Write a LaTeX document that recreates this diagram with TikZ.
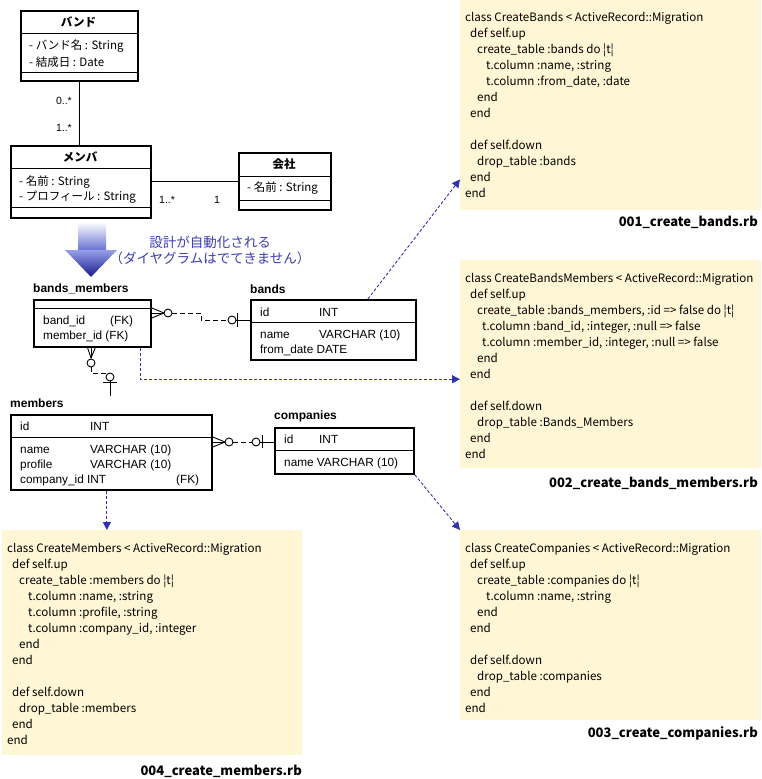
\documentclass[tikz,border=0pt]{standalone}
\usepackage{fontspec}
\setmainfont{Liberation Sans}
\newfontfamily\jp{Noto Sans CJK JP}
\usetikzlibrary{arrows.meta}

\definecolor{codebg}{RGB}{255,246,214}
\definecolor{linkblue}{RGB}{50,50,175}
\definecolor{noteblue}{RGB}{60,60,180}
\definecolor{arrowmid}{RGB}{105,115,210}
\definecolor{arrowlight}{RGB}{150,160,232}
\definecolor{arrowdark}{RGB}{25,25,140}

\newcommand{\codeindent}[1]{\hspace*{#1pt}}

\begin{document}
\begin{tikzpicture}[x=1pt,y=-1pt]
	\tikzset{classbox/.style = {draw, line width=1.8pt, anchor=north west, inner sep=0pt},
		part/.style = {line width=0.9pt},
		umltitle/.style = {font=\jp\bfseries\fontsize{11.5}{13}\selectfont, inner sep=0pt},
		umlattr/.style = {font=\jp\fontsize{11.5}{13}\selectfont, anchor=west, inner sep=0pt},
		mult/.style = {font=\fontsize{10.5}{12}\selectfont, inner sep=0pt},
		tablelabel/.style = {font=\bfseries\fontsize{12}{14}\selectfont, anchor=west, inner sep=0pt},
		field/.style = {font=\fontsize{11.8}{13}\selectfont, anchor=west, inner sep=0pt},
		codebox/.style = {fill=codebg, anchor=north west, inner sep=0pt},
		code/.style = {font=\jp\fontsize{11.6}{16}\selectfont, align=left, anchor=north west, inner sep=0pt},
		filename/.style = {font=\jp\bfseries\fontsize{13}{15}\selectfont, anchor=east, inner sep=0pt},
		flow/.style = {draw=linkblue, dash pattern=on 3pt off 2pt, line width=0.9pt, -{Triangle[length=8pt,width=8pt]}},
		rel/.style = {line width=0.9pt},
		reldash/.style = {line width=0.9pt, dash pattern=on 5pt off 3pt}}
	\useasboundingbox (0,0) rectangle (761,779);
	% UML classes
	\node[classbox, minimum width=117, minimum height=70] (band) at (20,10) {};
	\draw[part] (20,33) -- (137,33);
	\draw[part] (20,72) -- (137,72);
	\node[umltitle] (bandT) at (78.5,22) {バンド};
	\node[umlattr] (bandA1) at (29,46) {- バンド名 : String};
	\node[umlattr] (bandA2) at (29,62) {- 結成日 : Date};
	\node[classbox, minimum width=140, minimum height=72] (member) at (10,145) {};
	\draw[part] (10,168) -- (150,168);
	\draw[part] (10,207) -- (150,207);
	\node[umltitle] (memberT) at (80,157) {メンバ};
	\node[umlattr] (memberA1) at (19,182) {- 名前 : String};
	\node[umlattr] (memberA2) at (19,197) {- プロフィール : String};
	\node[classbox, minimum width=92, minimum height=57] (company) at (238,152) {};
	\draw[part] (238,176) -- (330,176);
	\draw[part] (238,200) -- (330,200);
	\node[umltitle] (companyT) at (284,164) {会社};
	\node[umlattr] (companyA1) at (247,188) {- 名前 : String};
	% associations
	\draw[rel] (band.south) -- (band.south |- member.north);
	\draw[rel] (member.east) -- (member.east -| company.west);
	\node[mult, anchor=east] (m1) at (72,101) {0..*};
	\node[mult, anchor=east] (m2) at (72,128) {1..*};
	\node[mult, anchor=west] (m3) at (159,200) {1..*};
	\node[mult, anchor=west] (m4) at (214,200) {1};
	% big arrow and note
	\shade[top color=white, bottom color=arrowmid] (78,222) rectangle (106,250);
	\shade[top color=arrowlight, bottom color=arrowdark] (65,250) -- (117,250) -- (91,277) -- cycle;
	\node[font=\jp\fontsize{13.5}{16}\selectfont, text=noteblue, align=center, inner sep=0pt] (note) at (210,250) {設計が自動化される\\（ダイヤグラムはでてきません）};
	% ER tables
	\node[tablelabel] (bmL) at (33,289) {bands\_members};
	\node[classbox, minimum width=117, minimum height=47] (bm) at (33,299) {};
	\draw[part] (33,308) -- (150,308);
	\node[field] (bm1) at (43,321) {band\_id};
	\node[field] (bm1k) at (110,321) {(FK)};
	\node[field] (bm2) at (43,336) {member\_id (FK)};
	\node[tablelabel] (bandsL) at (250,289) {bands};
	\node[classbox, minimum width=165, minimum height=60] (bands) at (250,299) {};
	\draw[part] (250,322) -- (415,322);
	\node[field] (bd1) at (260,312) {id};
	\node[field] (bd1t) at (319,312) {INT};
	\node[field] (bd2) at (260,335) {name};
	\node[field] (bd2t) at (319,335) {VARCHAR (10)};
	\node[field] (bd3) at (260,350) {from\_date DATE};
	\node[tablelabel] (memL) at (10,403) {members};
	\node[classbox, minimum width=201, minimum height=75] (mem) at (10,414) {};
	\draw[part] (10,437) -- (211,437);
	\node[field] (mm1) at (20,426) {id};
	\node[field] (mm1t) at (90,426) {INT};
	\node[field] (mm2) at (20,450) {name};
	\node[field] (mm2t) at (90,450) {VARCHAR (10)};
	\node[field] (mm3) at (20,465) {profile};
	\node[field] (mm3t) at (90,465) {VARCHAR (10)};
	\node[field] (mm4) at (20,480) {company\_id INT};
	\node[field] (mm4k) at (176,480) {(FK)};
	\node[tablelabel] (compL) at (274,416) {companies};
	\node[classbox, minimum width=139, minimum height=46] (comp) at (274,427) {};
	\draw[part] (274,450) -- (413,450);
	\node[field] (cp1) at (284,439) {id};
	\node[field] (cp1t) at (319,439) {INT};
	\node[field] (cp2) at (284,463) {name VARCHAR (10)};
	% relations
	\draw[rel] (bm.east |- 0,308) -- (164,313) -- (bm.east |- 0,318);
	\draw[rel] (bm.east |- 0,313) -- (164,313);
	\draw[rel] (168,313) circle (4pt);
	\draw[reldash] (172,313) -- (201,313) -- (201,320) -- (228,320);
	\draw[rel] (232,320) circle (4pt);
	\draw[rel] (237,313) -- (237,327);
	\draw[rel] (236,320) -- (bands.west |- 0,320);
	\draw[rel] (87,346) -- (91,358) -- (96,346);
	\draw[rel] (91,346) -- (91,358);
	\draw[rel] (91,363) circle (4pt);
	\draw[reldash] (91,367) -- (91,373) -- (106,373);
	\draw[rel] (110,377) circle (4pt);
	\draw[rel] (103,382) -- (117,382);
	\draw[rel] (110,381) -- (110,396);
	\draw[rel] (mem.east |- 0,437) -- (225,442) -- (mem.east |- 0,447);
	\draw[rel] (mem.east |- 0,442) -- (225,442);
	\draw[rel] (229,442) circle (4pt);
	\draw[reldash] (233,442) -- (252,442);
	\draw[rel] (256,442) circle (4pt);
	\draw[rel] (262,435) -- (262,448);
	\draw[rel] (260,442) -- (comp.west |- 0,442);
	% migration files
	\node[codebox, minimum width=301, minimum height=210] (mig1) at (460,0) {};
	\node[codebox, minimum width=301, minimum height=208] (mig2) at (460,260) {};
	\node[codebox, minimum width=301, minimum height=190] (mig3) at (460,530) {};
	\node[codebox, minimum width=300, minimum height=225] (mig4) at (2,530) {};
	\node[code] (code1) at (465,12) {class CreateBands < ActiveRecord::Migration\\
		\codeindent{5}def self.up\\
		\codeindent{12}create\_table :bands do ¦t¦\\
		\codeindent{21}t.column :name, :string\\
		\codeindent{21}t.column :from\_date, :date\\
		\codeindent{12}end\\
		\codeindent{5}end\\
		\mbox{}\\
		\codeindent{5}def self.down\\
		\codeindent{12}drop\_table :bands\\
		\codeindent{5}end\\
		end};
	\node[code] (code2) at (465,273) {class CreateBandsMembers < ActiveRecord::Migration\\
		\codeindent{5}def self.up\\
		\codeindent{12}create\_table :bands\_members, :id => false do ¦t¦\\
		\codeindent{17}t.column :band\_id, :integer, :null => false\\
		\codeindent{17}t.column :member\_id, :integer, :null => false\\
		\codeindent{12}end\\
		\codeindent{5}end\\
		\mbox{}\\
		\codeindent{5}def self.down\\
		\codeindent{12}drop\_table :Bands\_Members\\
		\codeindent{5}end\\
		end};
	\node[code] (code3) at (465,543) {class CreateCompanies < ActiveRecord::Migration\\
		\codeindent{5}def self.up\\
		\codeindent{12}create\_table :companies do ¦t¦\\
		\codeindent{21}t.column :name, :string\\
		\codeindent{12}end\\
		\codeindent{5}end\\
		\mbox{}\\
		\codeindent{5}def self.down\\
		\codeindent{12}drop\_table :companies\\
		\codeindent{5}end\\
		end};
	\node[code] (code4) at (7,543) {class CreateMembers < ActiveRecord::Migration\\
		\codeindent{5}def self.up\\
		\codeindent{12}create\_table :members do ¦t¦\\
		\codeindent{21}t.column :name, :string\\
		\codeindent{21}t.column :profile, :string\\
		\codeindent{21}t.column :company\_id, :integer\\
		\codeindent{12}end\\
		\codeindent{5}end\\
		\mbox{}\\
		\codeindent{5}def self.down\\
		\codeindent{12}drop\_table :members\\
		\codeindent{5}end\\
		end};
	\node[filename] (file1) at (758,222) {001\_create\_bands.rb};
	\node[filename] (file2) at (758,483) {002\_create\_bands\_members.rb};
	\node[filename] (file3) at (758,733) {003\_create\_companies.rb};
	\node[filename] (file4) at (302,771) {004\_create\_members.rb};
	% generated files
	\draw[flow] ([xshift=34.5pt]bands.north) -- ([yshift=31pt]mig1.south west);
	\draw[flow] ([xshift=-11pt]bm.south east) |- ([yshift=-15pt]mig2.west);
	\draw[flow] ([xshift=-4.5pt]mem.south) -- ([xshift=-4.5pt]mem.south |- mig4.north);
	\draw[flow] (comp.south east) -- (mig3.north west);
\end{tikzpicture}
\end{document}
